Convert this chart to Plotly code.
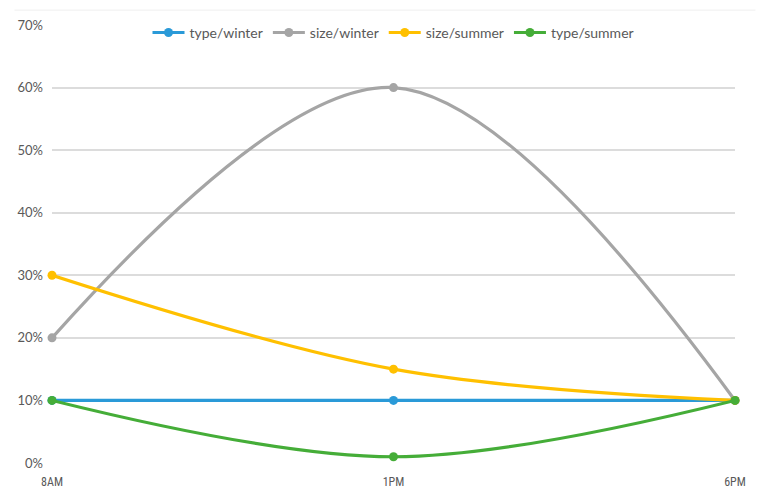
import plotly.graph_objects as go

# Time-of-day categories and share values (fractions)
times = ["8AM", "1PM", "6PM"]
type_winter = [0.10, 0.10, 0.10]
size_winter = [0.20, 0.60, 0.10]
size_summer = [0.30, 0.15, 0.10]
type_summer = [0.10, 0.01, 0.10]

series = [
    ("type/winter", type_winter, "#2A9AD8"),
    ("size/winter", size_winter, "#A5A5A5"),
    ("size/summer", size_summer, "#FFC000"),
    ("type/summer", type_summer, "#45AD38"),
]

y_ticks = [0, 0.1, 0.2, 0.3, 0.4, 0.5, 0.6, 0.7]

fig = go.Figure()
xpos = list(range(len(times)))
for name, vals, color in series:
    fig.add_trace(go.Scatter(
        x=xpos, y=vals, name=name, mode="lines+markers",
        line=dict(color=color, width=3.2, shape="spline", smoothing=1),
        marker=dict(color=color, size=9),
        cliponaxis=False,
    ))

fig.update_layout(
    width=758, height=499,
    margin=dict(l=52, r=23, t=25, b=36),
    paper_bgcolor="white", plot_bgcolor="white",
    font=dict(family="Lato, Open Sans, sans-serif", size=13, color="#595959"),
    legend=dict(
        orientation="h", x=0.5, xanchor="center", y=0.982, yanchor="middle",
        bgcolor="rgba(255,255,255,0)", font=dict(size=14, color="#595959"),
        itemwidth=32, tracegroupgap=0,
    ),
    xaxis=dict(
        range=[0, 2], tickvals=xpos, ticktext=times,
        showgrid=False, zeroline=False, showline=False,
        ticks="", ticklabelstandoff=10, automargin=False,
        tickfont=dict(size=12, family="Roboto Condensed, Liberation Sans Narrow, Lato", color="#595959"),
        fixedrange=True,
    ),
    yaxis=dict(
        range=[0, 0.7], tickvals=y_ticks, tickformat=".0%",
        showgrid=True, gridcolor="#DCDCDC", gridwidth=1.5,
        zeroline=False, showline=False, ticks="",
        ticklabelstandoff=8, automargin=False,
        tickfont=dict(size=13, color="#595959"),
    ),
    showlegend=True,
)

# faint frame edge along the top of the chart
fig.add_shape(type="line", xref="paper", yref="paper",
              x0=-0.055, x1=1.03, y0=1.034, y1=1.034,
              line=dict(color="#EFEFEF", width=1))

fig.write_html("out.html")
